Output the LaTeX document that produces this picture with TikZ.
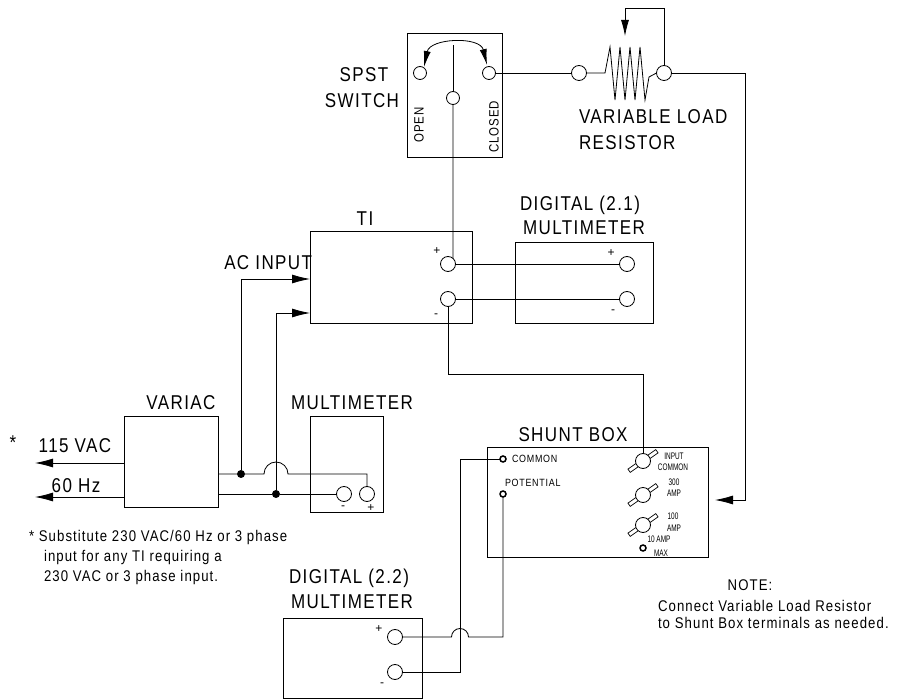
\documentclass[tikz,border=0pt]{standalone}
\usepackage{fontspec}
\setmainfont{Liberation Sans}
\newfontfamily\lblfont[FakeStretch=0.85,LetterSpace=7]{Liberation Sans}
\newfontfamily\tinyfont[FakeStretch=0.68]{Liberation Sans}
\usetikzlibrary{arrows.meta}

\begin{document}
\begin{tikzpicture}[y=1pt, x=1pt, yscale=-1, inner sep=0pt, outer sep=0pt,
  wire/.style={line width=0.8pt},
  box/.style={draw, line width=1pt},
  term/.style={circle, draw, line width=0.8pt, fill=white, minimum size=15pt},
  swterm/.style={term, minimum size=13pt},
  post/.style={circle, draw, line width=1.5pt, fill=white, minimum size=6pt},
  jdot/.style={circle, fill=black, minimum size=8pt},
  big/.style={font=\lblfont\fontsize{20}{22}\selectfont},
  mid/.style={font=\lblfont\fontsize{15.5}{18}\selectfont},
  small/.style={font=\lblfont\fontsize{10.5}{12}\selectfont},
  sign/.style={font=\fontsize{12}{12}\selectfont},
  tiny/.style={font=\tinyfont\fontsize{9.5}{10}\selectfont},
  arr/.style={-{Latex[length=18pt,width=9pt]}},
  swarr/.style={{Latex[length=16pt,width=7pt]}-{Latex[length=16pt,width=7pt]}}]
\path[use as bounding box, fill=white] (0,0) rectangle (903,700);

% boxes
\node[box, minimum width=95pt, minimum height=124pt] (spst) at (454.5,96) {};
\node[box, minimum width=162pt, minimum height=92pt] (ti) at (391,278) {};
\node[box, minimum width=138pt, minimum height=81pt] (dmma) at (584,283.5) {};
\node[box, minimum width=94pt, minimum height=91pt] (variac) at (171,462.5) {};
\node[box, minimum width=73pt, minimum height=96pt] (mm) at (346.5,465) {};
\node[box, minimum width=221pt, minimum height=110pt] (shunt) at (597.5,503) {};
\node[box, minimum width=139pt, minimum height=80pt] (dmmb) at (352.5,658) {};

% terminals
\node[swterm] (swo) at (420,73) {};
\node[swterm] (swc) at (489,73) {};
\node[swterm] (swm) at (453,98) {};
\node[term] (rl) at (579,73) {};
\node[term] (rr) at (664,73) {};
\node[term] (tip) at (448,264) {};
\node[term] (tim) at (448,299) {};
\node[term] (dap) at (627,264) {};
\node[term] (dam) at (627,299) {};
\node[term] (mmm) at (344,494) {};
\node[term] (mmp) at (367,494) {};
\node[term] (dbp) at (395,637) {};
\node[term] (dbm) at (395,672) {};
\node[post] (shc) at (503,459) {};
\node[post] (shp) at (503,494) {};
\node[post] (sh10) at (643,548) {};
\foreach \k/\y in {k1/461,k2/495,k3/525} {
  \draw[line width=0.7pt, fill=white, rotate around={-35:(643,\y)}]
    (626,\y-2) rectangle (660,\y+2);
  \node[term] (\k) at (643,\y) {};
}
\node[jdot] (j1) at (241,474) {};
\node[jdot] (j2) at (276,494) {};

\coordinate (swpivot) at (453,45);
\coordinate (wiper) at (625,36);
\coordinate (rbend) at (745,500);
\coordinate (loadin) at (715,500);
\coordinate (acin1) at (310,279);
\coordinate (acin2) at (310,313);
\coordinate (vac1) at (35,463);
\coordinate (vac2) at (35,497);
\coordinate (cbend) at (460,672);

% wiring
\draw[wire] (swm.north) -- (swpivot);
\draw[wire, swarr] (424,67) .. controls (430,38) and (480,36) .. (487,65);
\draw[wire] (swc.east) -- (rl.west);
\draw[wire] (rl.east) -- (605,73) -- (610,47) -- (615,100) -- (620,47) --
  (625,100) -- (630,47) -- (635,100) -- (640,47) -- (645,100) -- (649,77) -- (rr.west);
\draw[wire, -{Latex[length=16pt,width=8pt]}] (rr.north) -- ++(0,-57) -| (wiper);
\draw[wire, arr] (rr.east) -| (rbend) -- (loadin);
\draw[wire] (swm.south) -- (tip.48);
\draw[wire] (tip.east) -- (dap.west);
\draw[wire] (tim.east) -- (dam.west);
\draw[wire] (tim.south) -- ++(0,68) -| (k1.north);
\draw[wire, arr] (j1) |- (acin1);
\draw[wire, arr] (j2) |- (acin2);
\draw[wire, arr] (variac.west |- vac1) -- (vac1);
\draw[wire, arr] (variac.west |- vac2) -- (vac2);
\draw[wire] (variac.east |- j1) -- (j1) -- (264,474)
  arc[start angle=180, end angle=360, radius=12] -| (mmp.north);
\draw[wire] (variac.east |- j2) -- (j2) -- (mmm.west);
\draw[wire] (shc.west) -| (cbend) -- (dbm.east);
\draw[wire] (shp.south) |- (468.5,637)
  arc[start angle=0, end angle=-180, radius=8.5] -- (dbp.east);

% labels
\node[big] (lblspst) at (364,75) {SPST};
\node[big] (lblswitch) at (362,101) {SWITCH};
\node[font=\lblfont\fontsize{13.5}{14}\selectfont, rotate=90] (lblopen) at (419,125) {OPEN};
\node[font=\lblfont\fontsize{13.5}{14}\selectfont, rotate=90] (lblclosed) at (494,127) {CLOSED};
\node[big, anchor=west] (lblvar) at (579,117) {VARIABLE LOAD};
\node[big, anchor=west] (lblres) at (579,143) {RESISTOR};
\node[big] (lblti) at (365,219) {TI};
\node[big] (lbldig1) at (580,205) {DIGITAL (2.1)};
\node[big] (lblmm1) at (584,228) {MULTIMETER};
\node[big, anchor=east] (lblac) at (312,263) {AC INPUT};
\node[big] (lblvariac) at (181,403) {VARIAC};
\node[big] (lblmm) at (352,403) {MULTIMETER};
\node[big] (lblstar) at (13,443) {*};
\node[big] (lbl115) at (75,446) {115 VAC};
\node[big] (lbl60) at (76,486) {60 Hz};
\node[big] (lblshunt) at (573,435) {SHUNT BOX};
\node[big] (lbldig2) at (349,578) {DIGITAL (2.2)};
\node[big] (lblmm2) at (352,602) {MULTIMETER};
\node[sign] at (437,251) {+};
\node[sign] at (436,316) {-};
\node[sign] at (611,253) {+};
\node[sign] at (613,312) {-};
\node[sign] at (343,508) {-};
\node[sign] at (371,508) {+};
\node[sign] at (379,629) {+};
\node[sign] at (382,685) {-};
\node[small, anchor=west] (lblcom) at (512,459) {COMMON};
\node[small, anchor=west] (lblpot) at (505,483) {POTENTIAL};
\node[tiny] at (674,456) {INPUT};
\node[tiny] at (673,467) {COMMON};
\node[tiny] at (674,482) {300};
\node[tiny] at (674,493) {AMP};
\node[tiny] at (673,516) {100};
\node[tiny] at (674,528) {AMP};
\node[tiny] at (659,539) {10 AMP};
\node[tiny] at (661,553) {MAX};
\node[mid, anchor=west] (note1) at (29,537) {* Substitute 230 VAC/60 Hz or 3 phase};
\node[mid, anchor=west] (note2) at (44,557) {input for any TI requiring a};
\node[mid, anchor=west] (note3) at (44,577) {230 VAC or 3 phase input.};
\node[mid] (notehead) at (750,585) {NOTE:};
\node[mid, anchor=west] (note4) at (658,606) {Connect Variable Load Resistor};
\node[mid, anchor=west] (note5) at (658,623) {to Shunt Box terminals as needed.};
\end{tikzpicture}
\end{document}
